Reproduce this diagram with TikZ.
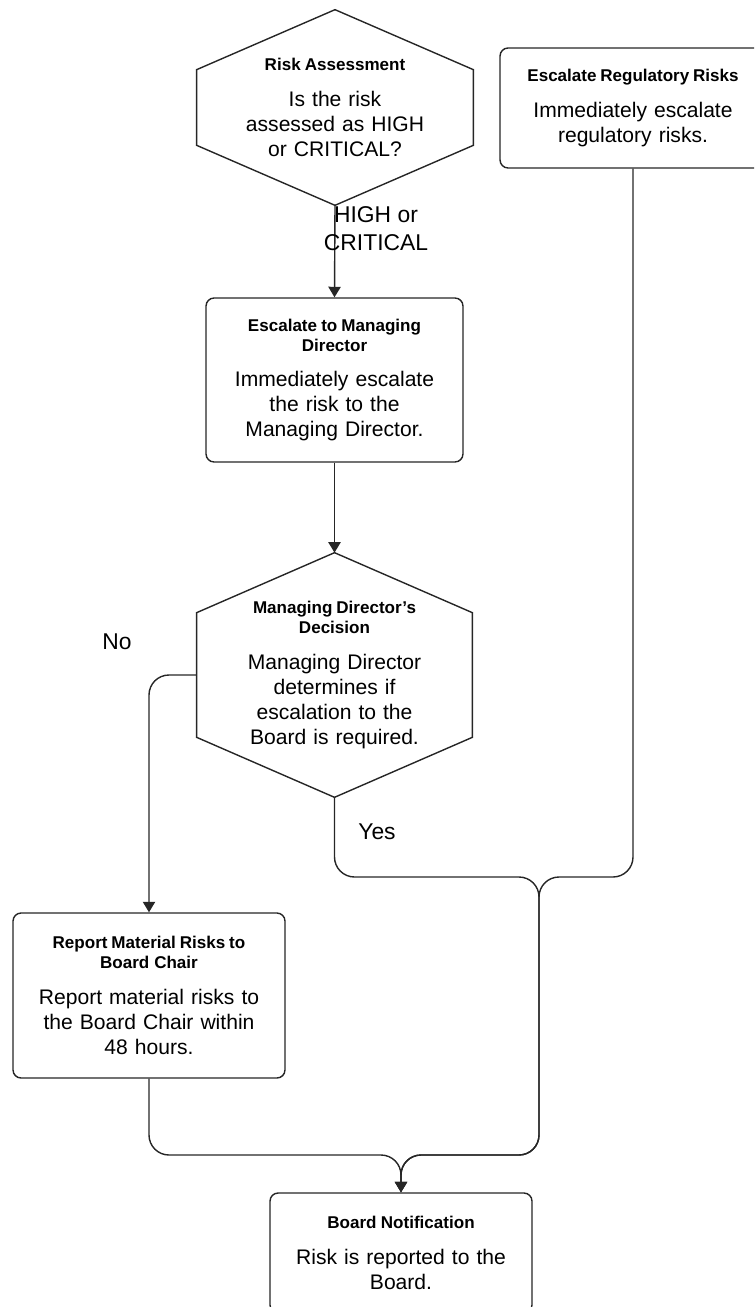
\documentclass[tikz,border=0pt]{standalone}
\usepackage{fontspec}
\setmainfont{Liberation Sans}
\usetikzlibrary{arrows.meta}
\newcommand{\boxttl}{\fontsize{9.7}{11.3}\selectfont\bfseries\spaceskip=0.2em plus 0.05em}

\begin{document}
\begin{tikzpicture}[x=0.02cm, y=-0.02cm,
		line/.style={draw=black!85, line width=0.8pt},
		stepbox/.style={line, rounded corners=0.16cm, fill=white, align=center, text width=4.9cm, inner sep=0pt, font=\fontsize{12}{14.2}\selectfont},
		decide/.style={align=center, text width=4.2cm, inner sep=0pt, font=\fontsize{12}{14.2}\selectfont},
		flow/.style={line, rounded corners=0.4cm, -{Triangle[width=7pt,length=6pt]}},
		lbl/.style={align=center, font=\fontsize{13}{16}\selectfont}]
		\useasboundingbox (0,0) rectangle (754,1307);
		\clip (0,0) rectangle (754,1307);
		
		% decisions
		\node [decide, minimum width=5.52cm, minimum height=3.9cm] (risk) at (335,107.5) {{\boxttl Risk Assessment}\\[6pt]Is the risk\\assessed as HIGH\\or CRITICAL?};
		\draw [line] (risk.north) -- ([yshift=-1.2cm]risk.north east) -- ([yshift=1.2cm]risk.south east) -- (risk.south) -- ([yshift=1.2cm]risk.south west) -- ([yshift=-1.2cm]risk.north west) -- cycle;
		
		\node [decide, minimum width=5.5cm, minimum height=4.88cm] (mdd) at (334.5,675) {{\boxttl Managing Director's}\\[-2.9pt]{\boxttl Decision}\\[6pt]Managing Director\\determines if\\escalation to the\\Board is required.};
		\draw [line] (mdd.north) -- ([yshift=-1.2cm]mdd.north east) -- ([yshift=1.2cm]mdd.south east) -- (mdd.south) -- ([yshift=1.2cm]mdd.south west) -- ([yshift=-1.2cm]mdd.north west) -- cycle;
		
		% steps
		\node [stepbox, minimum width=5.32cm, minimum height=2.4cm] (reg) at (633,108) {{\boxttl Escalate Regulatory Risks}\\[6pt]Immediately escalate\\regulatory risks.};
		\node [stepbox, minimum width=5.14cm, minimum height=3.28cm] (emd) at (334.5,380) {{\boxttl Escalate to Managing}\\[-2.9pt]{\boxttl Director}\\[6pt]Immediately escalate\\the risk to the\\Managing Director.};
		\node [stepbox, minimum width=5.44cm, minimum height=3.3cm] (rep) at (149,995.5) {{\boxttl Report Material Risks to}\\[-2.9pt]{\boxttl Board Chair}\\[6pt]Report material risks to\\the Board Chair within\\48 hours.};
		\node [stepbox, minimum width=5.24cm, minimum height=2.4cm] (bn) at (401,1253) {{\boxttl Board Notification}\\[6pt]Risk is reported to the\\Board.};
		
		\coordinate (j1) at (539,877);
		\coordinate (j2) at (539,1155);
		
		% connectors
		\draw [flow] (risk.south) -- (emd.north);
		\node [lbl] (hc) at (376,229) {HIGH or\\CRITICAL};
		\draw [flow] (emd.south) -- (mdd.north);
		\draw [flow] (mdd.west) -| (rep.north);
		\node [lbl] (no) at (117,642) {No};
		\draw [flow] (mdd.south) |- (j1) -- (j2) -| (bn.north);
		\node [lbl] (yes) at (377,832) {Yes};
		\draw [flow] (reg.south) |- (j1) -- (j2) -| (bn.north);
		\draw [flow] (rep.south) |- (bn.north |- j2) -- (bn.north);
		
	\end{tikzpicture}
\end{document}
